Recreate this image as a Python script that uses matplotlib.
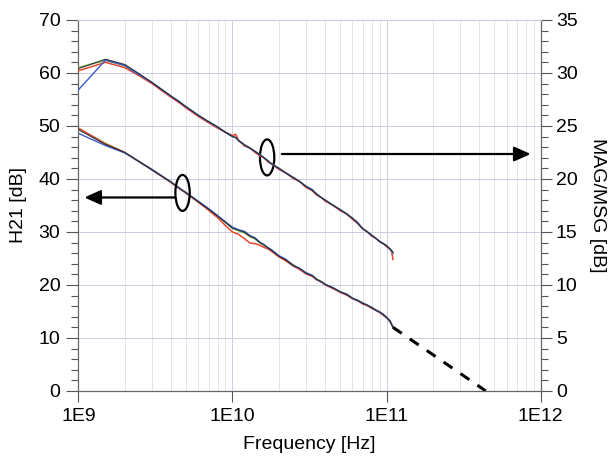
import numpy as np
import matplotlib
matplotlib.use("Agg")
import matplotlib.pyplot as plt
from matplotlib.patches import Ellipse
from matplotlib.ticker import MultipleLocator, LogLocator, FuncFormatter, NullFormatter

plt.rcParams['font.family'] = ['Liberation Sans', 'DejaVu Sans']

# ---- data (frequencies in GHz) ----
f_h21 = [1.0, 1.5, 2.0, 2.5, 3.0, 3.5, 4.0, 4.5, 5.0, 6.0, 7.0, 8.0, 9.0, 10, 11, 12, 13, 14,
         15, 16, 17, 18, 20, 22, 25, 27, 30, 33, 35, 38, 40, 45, 50, 55, 60, 65, 70, 75, 80,
         85, 90, 95, 100, 105, 110]
h21_red = [49.6, 46.6, 45.0, 43.2, 41.7, 40.4, 39.3, 38.2, 37.3, 35.6, 34.1, 32.7, 31.2, 30.0,
           29.5, 28.7, 27.9, 27.8, 27.5, 27.1, 26.8, 26.3, 25.3, 24.6, 23.5, 23.0, 22.1, 21.6,
           21.0, 20.5, 20.0, 19.3, 18.6, 18.1, 17.4, 17.0, 16.4, 16.1, 15.6, 15.2, 14.8, 14.3,
           13.8, 13.1, 12.1]
h21_green = [49.5, 46.7, 45.0, 43.2, 41.8, 40.5, 39.4, 38.3, 37.4, 35.7, 34.3, 33.0, 31.8, 30.7,
             30.2, 29.8, 29.1, 28.7, 28.0, 27.5, 27.0, 26.5, 25.5, 24.8, 23.7, 23.1, 22.3, 21.7,
             21.1, 20.6, 20.1, 19.4, 18.7, 18.2, 17.5, 17.1, 16.6, 16.1, 15.7, 15.3, 14.9, 14.4,
             13.9, 13.2, 12.0]
h21_blue = [48.6, 46.3, 44.9, 43.2, 41.8, 40.5, 39.4, 38.3, 37.4, 35.8, 34.4, 33.1, 31.9, 30.9,
            30.4, 30.1, 29.3, 28.9, 28.1, 27.6, 27.0, 26.6, 25.5, 24.9, 23.6, 23.2, 22.3, 21.8,
            21.1, 20.5, 20.1, 19.5, 18.7, 18.3, 17.5, 17.0, 16.6, 16.2, 15.8, 15.2, 14.9, 14.5,
            13.9, 13.3, 12.1]
h21_black = [49.3, 46.5, 45.0, 43.2, 41.7, 40.5, 39.4, 38.3, 37.4, 35.7, 34.3, 33.0, 31.8, 30.7,
             30.3, 29.9, 29.2, 28.8, 28.0, 27.6, 27.0, 26.5, 25.4, 24.8, 23.6, 23.2, 22.2, 21.7,
             21.1, 20.5, 20.1, 19.4, 18.7, 18.2, 17.5, 17.1, 16.5, 16.2, 15.7, 15.3, 14.9, 14.4,
             13.8, 13.2, 12.0]

f_mag = [1.0, 1.5, 2.0, 2.5, 3.0, 3.5, 4.0, 4.5, 5.0, 6.0, 7.0, 8.0, 9.0, 10, 10.5, 11, 12, 13,
         14, 15, 16, 17, 18, 20, 22, 25, 27, 30, 33, 35, 38, 40, 45, 50, 55, 60, 65, 70, 75,
         80, 85, 90, 95, 100, 105, 108, 110]
mag_red = [30.2, 31.0, 30.5, 29.7, 29.0, 28.3, 27.7, 27.2, 26.7, 25.9, 25.3, 24.8, 24.4, 24.1,
           24.2, 23.6, 23.1, 22.9, 22.5, 22.2, 22.0, 21.6, 21.4, 20.9, 20.6, 20.0, 19.8, 19.2,
           18.9, 18.5, 18.2, 17.9, 17.5, 17.0, 16.7, 16.2, 15.8, 15.3, 15.0, 14.6, 14.4, 14.1,
           13.9, 13.6, 13.4, 13.1, 12.4]
mag_green = [30.5, 31.2, 30.7, 29.8, 29.1, 28.4, 27.8, 27.3, 26.8, 26.0, 25.4, 24.9, 24.4, 24.0,
             23.9, 23.6, 23.2, 22.9, 22.6, 22.3, 22.0, 21.7, 21.4, 21.0, 20.6, 20.1, 19.8, 19.3,
             18.9, 18.6, 18.2, 18.0, 17.5, 17.1, 16.7, 16.3, 15.8, 15.3, 15.0, 14.7, 14.4, 14.1,
             13.9, 13.7, 13.4, 13.2, 13.0]
mag_blue = [28.4, 31.2, 30.7, 29.8, 29.1, 28.4, 27.8, 27.3, 26.8, 26.0, 25.4, 24.9, 24.4, 24.0,
            23.9, 23.6, 23.2, 22.9, 22.6, 22.3, 22.0, 21.7, 21.4, 21.0, 20.6, 20.1, 19.8, 19.3,
            19.0, 18.6, 18.2, 18.0, 17.5, 17.1, 16.7, 16.3, 15.9, 15.3, 15.0, 14.7, 14.4, 14.1,
            13.9, 13.7, 13.4, 13.2, 13.0]
mag_black = [30.4, 31.3, 30.8, 29.9, 29.1, 28.4, 27.8, 27.3, 26.8, 26.0, 25.4, 24.9, 24.4, 24.0,
             23.9, 23.6, 23.2, 22.9, 22.6, 22.3, 22.0, 21.7, 21.4, 21.0, 20.6, 20.1, 19.8, 19.3,
             18.9, 18.6, 18.2, 18.0, 17.5, 17.1, 16.7, 16.3, 15.8, 15.3, 15.0, 14.7, 14.4, 14.1,
             13.9, 13.7, 13.4, 13.2, 13.1]

# extrapolated H21 (-20 dB/dec) down to fT
f_extrap = [110, 440]
h21_extrap = [12.0, 0.0]

# ---- figure ----
fig = plt.figure(figsize=(6.12, 4.61), dpi=100)
ax = fig.add_axes([0.128, 0.152, 0.7555, 0.8048])
ax2 = ax.twinx()

GHz = 1e9
cols = {'red': '#e5462e', 'green': '#7cba45', 'blue': '#3b5cc4', 'black': '#23283a'}
widths = {'red': 1.1, 'green': 1.2, 'blue': 1.0, 'black': 0.7}
order = ['green', 'red', 'blue', 'black']

h21 = {'red': h21_red, 'green': h21_green, 'blue': h21_blue, 'black': h21_black}
mag = {'red': mag_red, 'green': mag_green, 'blue': mag_blue, 'black': mag_black}
for c in order:
    ax.plot(np.array(f_h21) * GHz, h21[c], color=cols[c], lw=widths[c], zorder=3)
    ax2.plot(np.array(f_mag) * GHz, mag[c], color=cols[c], lw=widths[c], zorder=3)

ax.plot(np.array(f_extrap) * GHz, h21_extrap, color='black', lw=2.2,
        dashes=(3.5, 3.2), zorder=3)

ax.set_xscale('log')
ax.set_xlim(1e9, 1e12)
ax.set_ylim(0, 70)
ax2.set_ylim(0, 35)

ax.xaxis.set_major_locator(LogLocator(base=10, numticks=10))
ax.xaxis.set_minor_locator(LogLocator(base=10, subs=np.arange(2, 10), numticks=20))
ax.xaxis.set_major_formatter(FuncFormatter(lambda x, p: "1E%d" % int(round(np.log10(x)))))
ax.xaxis.set_minor_formatter(NullFormatter())
ax.yaxis.set_major_locator(MultipleLocator(10))
ax.yaxis.set_minor_locator(MultipleLocator(2))
ax2.yaxis.set_major_locator(MultipleLocator(5))
ax2.yaxis.set_minor_locator(MultipleLocator(1))

gridc = '#c9cde0'
ax.grid(True, which='major', axis='both', color=gridc, lw=0.7)
ax.grid(True, which='minor', axis='x', color='#dcdfeb', lw=0.6)
ax.set_axisbelow(True)

tc = '#555555'
fs = 14
ax.tick_params(axis='y', which='major', direction='out', length=9, width=0.8, color=tc,
               labelsize=fs, pad=4)
ax.tick_params(axis='y', which='minor', direction='out', length=5, width=0.8, color=tc)
ax.tick_params(axis='x', which='major', direction='out', length=8, width=0.8, color=tc,
               labelsize=fs, pad=4)
ax.tick_params(axis='x', which='minor', length=0)
ax2.tick_params(axis='y', which='major', direction='out', length=8, width=0.8, color=tc,
                labelsize=fs, pad=3)
ax2.tick_params(axis='y', which='minor', direction='out', length=5, width=0.8, color=tc)

for a in (ax, ax2):
    for s in ('left', 'bottom', 'right'):
        a.spines[s].set_color('#666666')
        a.spines[s].set_linewidth(0.8)
    a.spines['top'].set_color(gridc)

ax.set_xlabel('Frequency [Hz]', fontsize=fs, labelpad=8)
ax.set_ylabel('H21 [dB]', fontsize=fs, labelpad=8)
ax2.set_ylabel('MAG/MSG [dB]', fontsize=fs, rotation=270, labelpad=20)

# ellipses marking curve groups
for cx, cy in [(0.2254, 0.5337), (0.4083, 0.6294)]:
    ax.add_patch(Ellipse((cx, cy), 0.031, 0.097, transform=ax.transAxes, fill=False,
                         ec='black', lw=1.6, zorder=5))

# arrows pointing to the respective axes
ax.annotate('', xy=(1.094e9, 36.5), xytext=(4.25e9, 36.5),
            arrowprops=dict(arrowstyle='-|>,head_length=1.0,head_width=0.45',
                            color='black', lw=1.6, shrinkA=0, shrinkB=0), zorder=5)
ax.annotate('', xy=(8.6e11, 44.7), xytext=(2.09e10, 44.7),
            arrowprops=dict(arrowstyle='-|>,head_length=1.0,head_width=0.45',
                            color='black', lw=1.6, shrinkA=0, shrinkB=0), zorder=5)

fig.savefig('out.png', dpi=100)
